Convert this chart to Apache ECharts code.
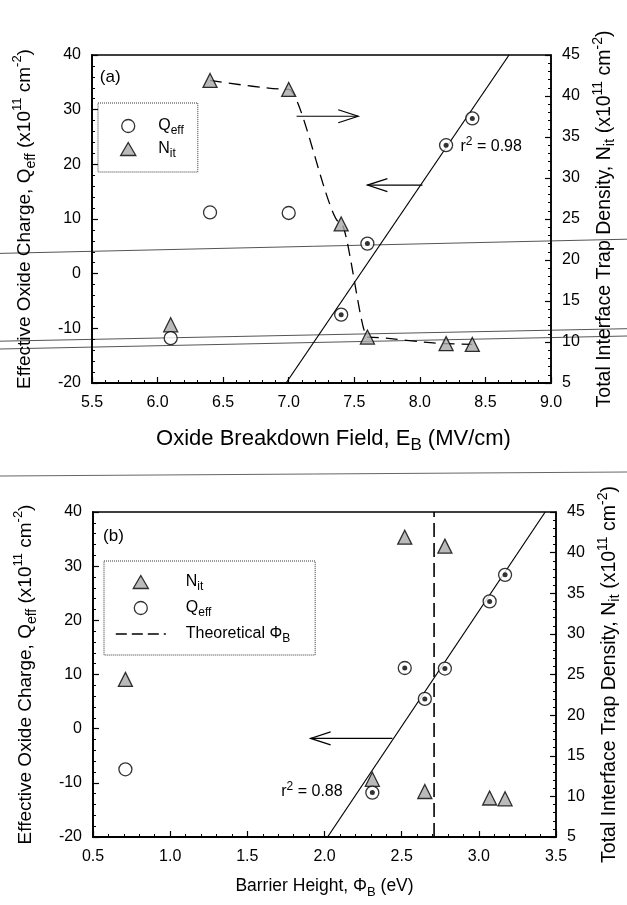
<!DOCTYPE html>
<html>
<head>
<meta charset="utf-8">
<script src="https://cdn.jsdelivr.net/npm/echarts@6/dist/echarts.min.js"></script>
<style>
  html, body { margin: 0; padding: 0; background: #fff; }
  #chart { width: 627px; height: 905px; }
</style>
</head>
<body>
<div id="chart"></div>
<script>
// Seven oxide samples, listed in the same order for both panels
const breakdownField = [6.1, 6.4, 7.0, 7.4, 7.6, 8.2, 8.4];        // E_B (MV/cm)
const barrierHeight  = [2.31, 2.52, 2.78, 0.71, 2.65, 3.07, 3.17];  // Phi_B (eV)
const qeffValues     = [-11.8, 11.2, 11.1, -7.5, 5.5, 23.5, 28.4];  // Q_eff (x10^11 cm^-2)
const nitValues      = [12.1, 41.9, 40.8, 24.4, 10.6, 9.8, 9.7];    // N_it (x10^11 cm^-2)

// Samples included in each linear fit (drawn with a dot inside the circle)
const fittedInA = [false, false, false, true, true, true, true];
const fittedInB = [true, true, true, false, true, true, true];

// Samples joined by the dashed N_it trend in panel (a)
const nitTrendInA = [false, true, true, true, true, true, true];

// Fit line end points
const fitLineA = [[6.98, -20], [8.68, 40]];
const fitLineB = [[2.02, -20], [3.43, 40]];
const fitR2A = '0.98';
const fitR2B = '0.88';

// Theoretical barrier height (eV)
const theoreticalPhiB = 2.71;

// Axis ranges: [min, max, interval]
const eBRange = [5.5, 9.0, 0.5];
const phiRange = [0.5, 3.5, 0.5];
const qeffRange = [-20, 40, 10];
const nitRange = [5, 45, 5];

// Arrows pointing each data set to its axis: [x1, y1, x2, y2] on the Q_eff scale
const arrowsA = [[7.06, 28.8, 7.53, 28.8], [8.02, 16.2, 7.60, 16.2]];
const arrowsB = [[2.44, -1.8, 1.91, -1.8]];

const FONT = '"Liberation Sans", Arial, Helvetica, sans-serif';

const pair = (xs, ys, keep) => xs.map((x, i) => [x, ys[i]]).filter((_, i) => !keep || keep[i]);

const richStyles = {
  sub: { fontSize: 12, lineHeight: 12, verticalAlign: 'bottom', fontFamily: FONT, color: '#000' },
  sup: { fontSize: 11, lineHeight: 11, verticalAlign: 'top', fontFamily: FONT, color: '#000' },
  sp13: { width: 13, fontSize: 16, fontFamily: FONT },
  sp15: { width: 15, fontSize: 16, fontFamily: FONT }
};

function nameStyle(size, extra) {
  return Object.assign({
    fontSize: size, lineHeight: Math.round(size * 1.4), fontFamily: FONT, color: '#000',
    rich: {
      sub: { fontSize: Math.round(size * 0.75), lineHeight: Math.round(size * 0.75), verticalAlign: 'bottom', fontFamily: FONT, color: '#000' },
      sup: { fontSize: Math.round(size * 0.7), lineHeight: Math.round(size * 0.7), verticalAlign: 'top', fontFamily: FONT, color: '#000' }
    }
  }, extra || {});
}

function valueAxis(extra) {
  return Object.assign({
    type: 'value',
    axisLine: { show: true, onZero: false, lineStyle: { color: '#000', width: 1.8 } },
    axisTick: { show: true, inside: true, length: 6, lineStyle: { color: '#000', width: 1.2 } },
    minorTick: { show: true, splitNumber: 5, length: 3, lineStyle: { color: '#000', width: 1 } },
    splitLine: { show: false },
    minorSplitLine: { show: false },
    axisLabel: { fontSize: 16, color: '#000', fontFamily: FONT, margin: 11 },
    nameLocation: 'middle'
  }, extra);
}

function xAxisFor(gridIndex, range, name, gap, style) {
  return valueAxis({
    gridIndex, min: range[0], max: range[1], interval: range[2],
    axisLabel: { fontSize: 16, color: '#000', fontFamily: FONT, margin: 12, formatter: v => v.toFixed(1) },
    name, nameGap: gap, nameTextStyle: style
  });
}

function leftAxisFor(gridIndex) {
  return valueAxis({
    gridIndex, position: 'left', min: qeffRange[0], max: qeffRange[1], interval: qeffRange[2],
    name: 'Effective Oxide Charge, Q{sub|eff} (x10{sup|11} cm{sup|-2})', nameGap: 54,
    nameTextStyle: nameStyle(19)
  });
}

function rightAxisFor(gridIndex) {
  return valueAxis({
    gridIndex, position: 'right', min: nitRange[0], max: nitRange[1], interval: nitRange[2],
    axisLine: { show: true, onZero: false, lineStyle: { color: '#000', width: 1.5 } },
    name: 'Total Interface Trap Density, N{sub|it} (x10{sup|11} cm{sup|-2})', nameGap: 38,
    nameTextStyle: nameStyle(19.5)
  });
}

// Open arrow: straight shaft with a two-stroke head at the end point
function renderArrow(params, api) {
  const a = api.coord([api.value(0), api.value(1)]);
  const b = api.coord([api.value(2), api.value(3)]);
  const dx = b[0] - a[0], dy = b[1] - a[1];
  const len = Math.hypot(dx, dy) || 1;
  const ux = dx / len, uy = dy / len;
  const hl = 20, hw = 6.5;
  const h1 = [b[0] - ux * hl - uy * hw, b[1] - uy * hl + ux * hw];
  const h2 = [b[0] - ux * hl + uy * hw, b[1] - uy * hl - ux * hw];
  const st = { stroke: '#000', lineWidth: 1.2, fill: null };
  return {
    type: 'group',
    children: [
      { type: 'polyline', shape: { points: [a, b] }, style: st },
      { type: 'polyline', shape: { points: [h1, b, h2] }, style: st }
    ]
  };
}

function arrowSeries(gridIndex, data) {
  return {
    type: 'custom', xAxisIndex: gridIndex, yAxisIndex: gridIndex * 2,
    data, encode: { x: [0, 2], y: [1, 3] }, renderItem: renderArrow, silent: true, z: 5
  };
}

// Panel letters and r^2 notes anchored to data coordinates
function noteSeries(gridIndex, notes) {
  return {
    type: 'custom', xAxisIndex: gridIndex, yAxisIndex: gridIndex * 2,
    data: notes.map(n => [n.x, n.y]),
    silent: true, z: 6,
    renderItem: (params, api) => {
      const p = api.coord([api.value(0), api.value(1)]);
      const n = notes[params.dataIndex];
      return {
        type: 'text', x: p[0], y: p[1],
        style: {
          text: n.text, fill: '#000', fontSize: n.size, fontFamily: FONT,
          align: 'left', verticalAlign: 'middle', lineHeight: 22,
          rich: { sup: { fontSize: 12, lineHeight: 12, verticalAlign: 'top', fontFamily: FONT, fill: '#000' } }
        }
      };
    }
  };
}

const circleStyle = { color: '#fff', borderColor: '#000', borderWidth: 1.3 };
const triangleStyle = { color: '#a9a9a9', borderColor: '#000', borderWidth: 1.3 };
// Triangle outline kept at its own aspect inside wide legend slots
const TRIANGLE_ICON = 'path://M0,12 L7,0 L14,12 Z';

function panelSeries(gridIndex, xs, fitted, fitLine) {
  const yl = gridIndex * 2, yr = gridIndex * 2 + 1;
  return [
    { name: 'Nit', type: 'scatter', xAxisIndex: gridIndex, yAxisIndex: yr,
      data: pair(xs, nitValues), symbol: 'triangle', symbolSize: 14,
      itemStyle: triangleStyle, z: 4 },
    { name: 'Qeff', type: 'scatter', xAxisIndex: gridIndex, yAxisIndex: yl,
      data: pair(xs, qeffValues), symbol: 'circle', symbolSize: 13,
      itemStyle: circleStyle, z: 4 },
    { name: 'fitted-' + gridIndex, type: 'scatter', xAxisIndex: gridIndex, yAxisIndex: yl,
      data: pair(xs, qeffValues, fitted), symbol: 'circle', symbolSize: 5,
      itemStyle: { color: '#000' }, z: 5, silent: true },
    { name: 'fit-' + gridIndex, type: 'line', xAxisIndex: gridIndex, yAxisIndex: yl,
      data: fitLine, symbol: 'none', lineStyle: { color: '#000', width: 1.2 }, z: 3, silent: true }
  ];
}

const nitTrend = pair(breakdownField, nitValues, nitTrendInA).sort((a, b) => a[0] - b[0]);

const legendNames = {
  'Qeff': 'Q{sub|eff}',
  'Nit': 'N{sub|it}',
  'Theoretical ΦB': 'Theoretical Φ{sub|B}'
};

const legendItem = {
  'Qeff': { name: 'Qeff', icon: 'circle', itemStyle: circleStyle },
  'Nit': { name: 'Nit', icon: TRIANGLE_ICON, itemStyle: triangleStyle },
  'Theoretical ΦB': { name: 'Theoretical ΦB', itemStyle: { color: 'rgba(0,0,0,0)', borderWidth: 0, opacity: 0 },
                      lineStyle: { color: '#000', width: 1.6, type: [11, 5] } }
};

const legendText = { fontSize: 16, lineHeight: 22, fontFamily: FONT, color: '#000', rich: richStyles };

const option = {
  backgroundColor: '#fff',
  animation: false,
  grid: [
    { left: 92, top: 55, width: 459, height: 328, show: true, borderColor: '#000', borderWidth: 1.5, backgroundColor: 'transparent', outerBoundsMode: 'none' },
    { left: 93, top: 512, width: 463, height: 325, show: true, borderColor: '#000', borderWidth: 1.5, backgroundColor: 'transparent', outerBoundsMode: 'none' }
  ],
  xAxis: [
    xAxisFor(0, eBRange, 'Oxide Breakdown Field, E{sub|B} (MV/cm)', 40, nameStyle(22, { padding: [0, 0, 0, 24] })),
    xAxisFor(1, phiRange, 'Barrier Height, Φ{sub|B} (eV)', 37, nameStyle(17.5))
  ],
  yAxis: [leftAxisFor(0), rightAxisFor(0), leftAxisFor(1), rightAxisFor(1)],
  legend: [
    {
      data: ['Qeff', 'Nit'].map(n => legendItem[n]), orient: 'vertical', left: 98, top: 103,
      itemWidth: 24, itemHeight: 13, itemGap: 1, symbolKeepAspect: true,
      padding: [12, 14, 12, 22],
      borderColor: '#333', borderWidth: 1, borderType: 'dotted',
      selectedMode: false,
      formatter: n => '{sp13|}' + legendNames[n],
      textStyle: legendText
    },
    {
      data: ['Nit', 'Qeff', 'Theoretical ΦB'].map(n => legendItem[n]), orient: 'vertical', left: 104, top: 561,
      itemWidth: 50, itemHeight: 13, itemGap: 4, symbolKeepAspect: true,
      padding: [10, 25, 10, 11],
      borderColor: '#333', borderWidth: 1, borderType: 'dotted',
      selectedMode: false,
      formatter: n => '{sp15|}' + legendNames[n],
      textStyle: legendText
    }
  ],
  series: [
    ...panelSeries(0, breakdownField, fittedInA, fitLineA),
    { name: 'nit-trend', type: 'line', xAxisIndex: 0, yAxisIndex: 1, data: nitTrend,
      smooth: 0.25, smoothMonotone: 'x', symbol: 'none',
      lineStyle: { color: '#000', width: 1.3, type: [12, 7] }, z: 2, silent: true },
    arrowSeries(0, arrowsA),
    noteSeries(0, [
      { x: 5.56, y: 35.9, text: '(a)', size: 17 },
      { x: 8.31, y: 23.2, text: 'r{sup|2} = ' + fitR2A, size: 16 }
    ]),
    ...panelSeries(1, barrierHeight, fittedInB, fitLineB),
    { name: 'Theoretical ΦB', type: 'line', xAxisIndex: 1, yAxisIndex: 2,
      data: [[theoreticalPhiB, qeffRange[0]], [theoreticalPhiB, qeffRange[1]]],
      symbol: 'none', lineStyle: { color: '#000', width: 1.6, type: [14, 6] }, z: 2 },
    arrowSeries(1, arrowsB),
    noteSeries(1, [
      { x: 0.565, y: 35.5, text: '(b)', size: 17 },
      { x: 1.72, y: -11.6, text: 'r{sup|2} = ' + fitR2B, size: 16 }
    ])
  ],
  // Faint rules crossing the page
  graphic: [
    { type: 'line', shape: { x1: 0, y1: 253.4, x2: 627, y2: 239.2 }, style: { stroke: '#555', lineWidth: 1 }, silent: true },
    { type: 'line', shape: { x1: 0, y1: 341.2, x2: 627, y2: 328.7 }, style: { stroke: '#555', lineWidth: 1 }, silent: true },
    { type: 'line', shape: { x1: 0, y1: 349, x2: 627, y2: 336 }, style: { stroke: '#555', lineWidth: 1 }, silent: true },
    { type: 'line', shape: { x1: 0, y1: 476, x2: 627, y2: 472 }, style: { stroke: '#666', lineWidth: 1 }, silent: true }
  ]
};

const chart = echarts.init(document.getElementById('chart'), null, { renderer: 'canvas' });
chart.setOption(option);
</script>
</body>
</html>
